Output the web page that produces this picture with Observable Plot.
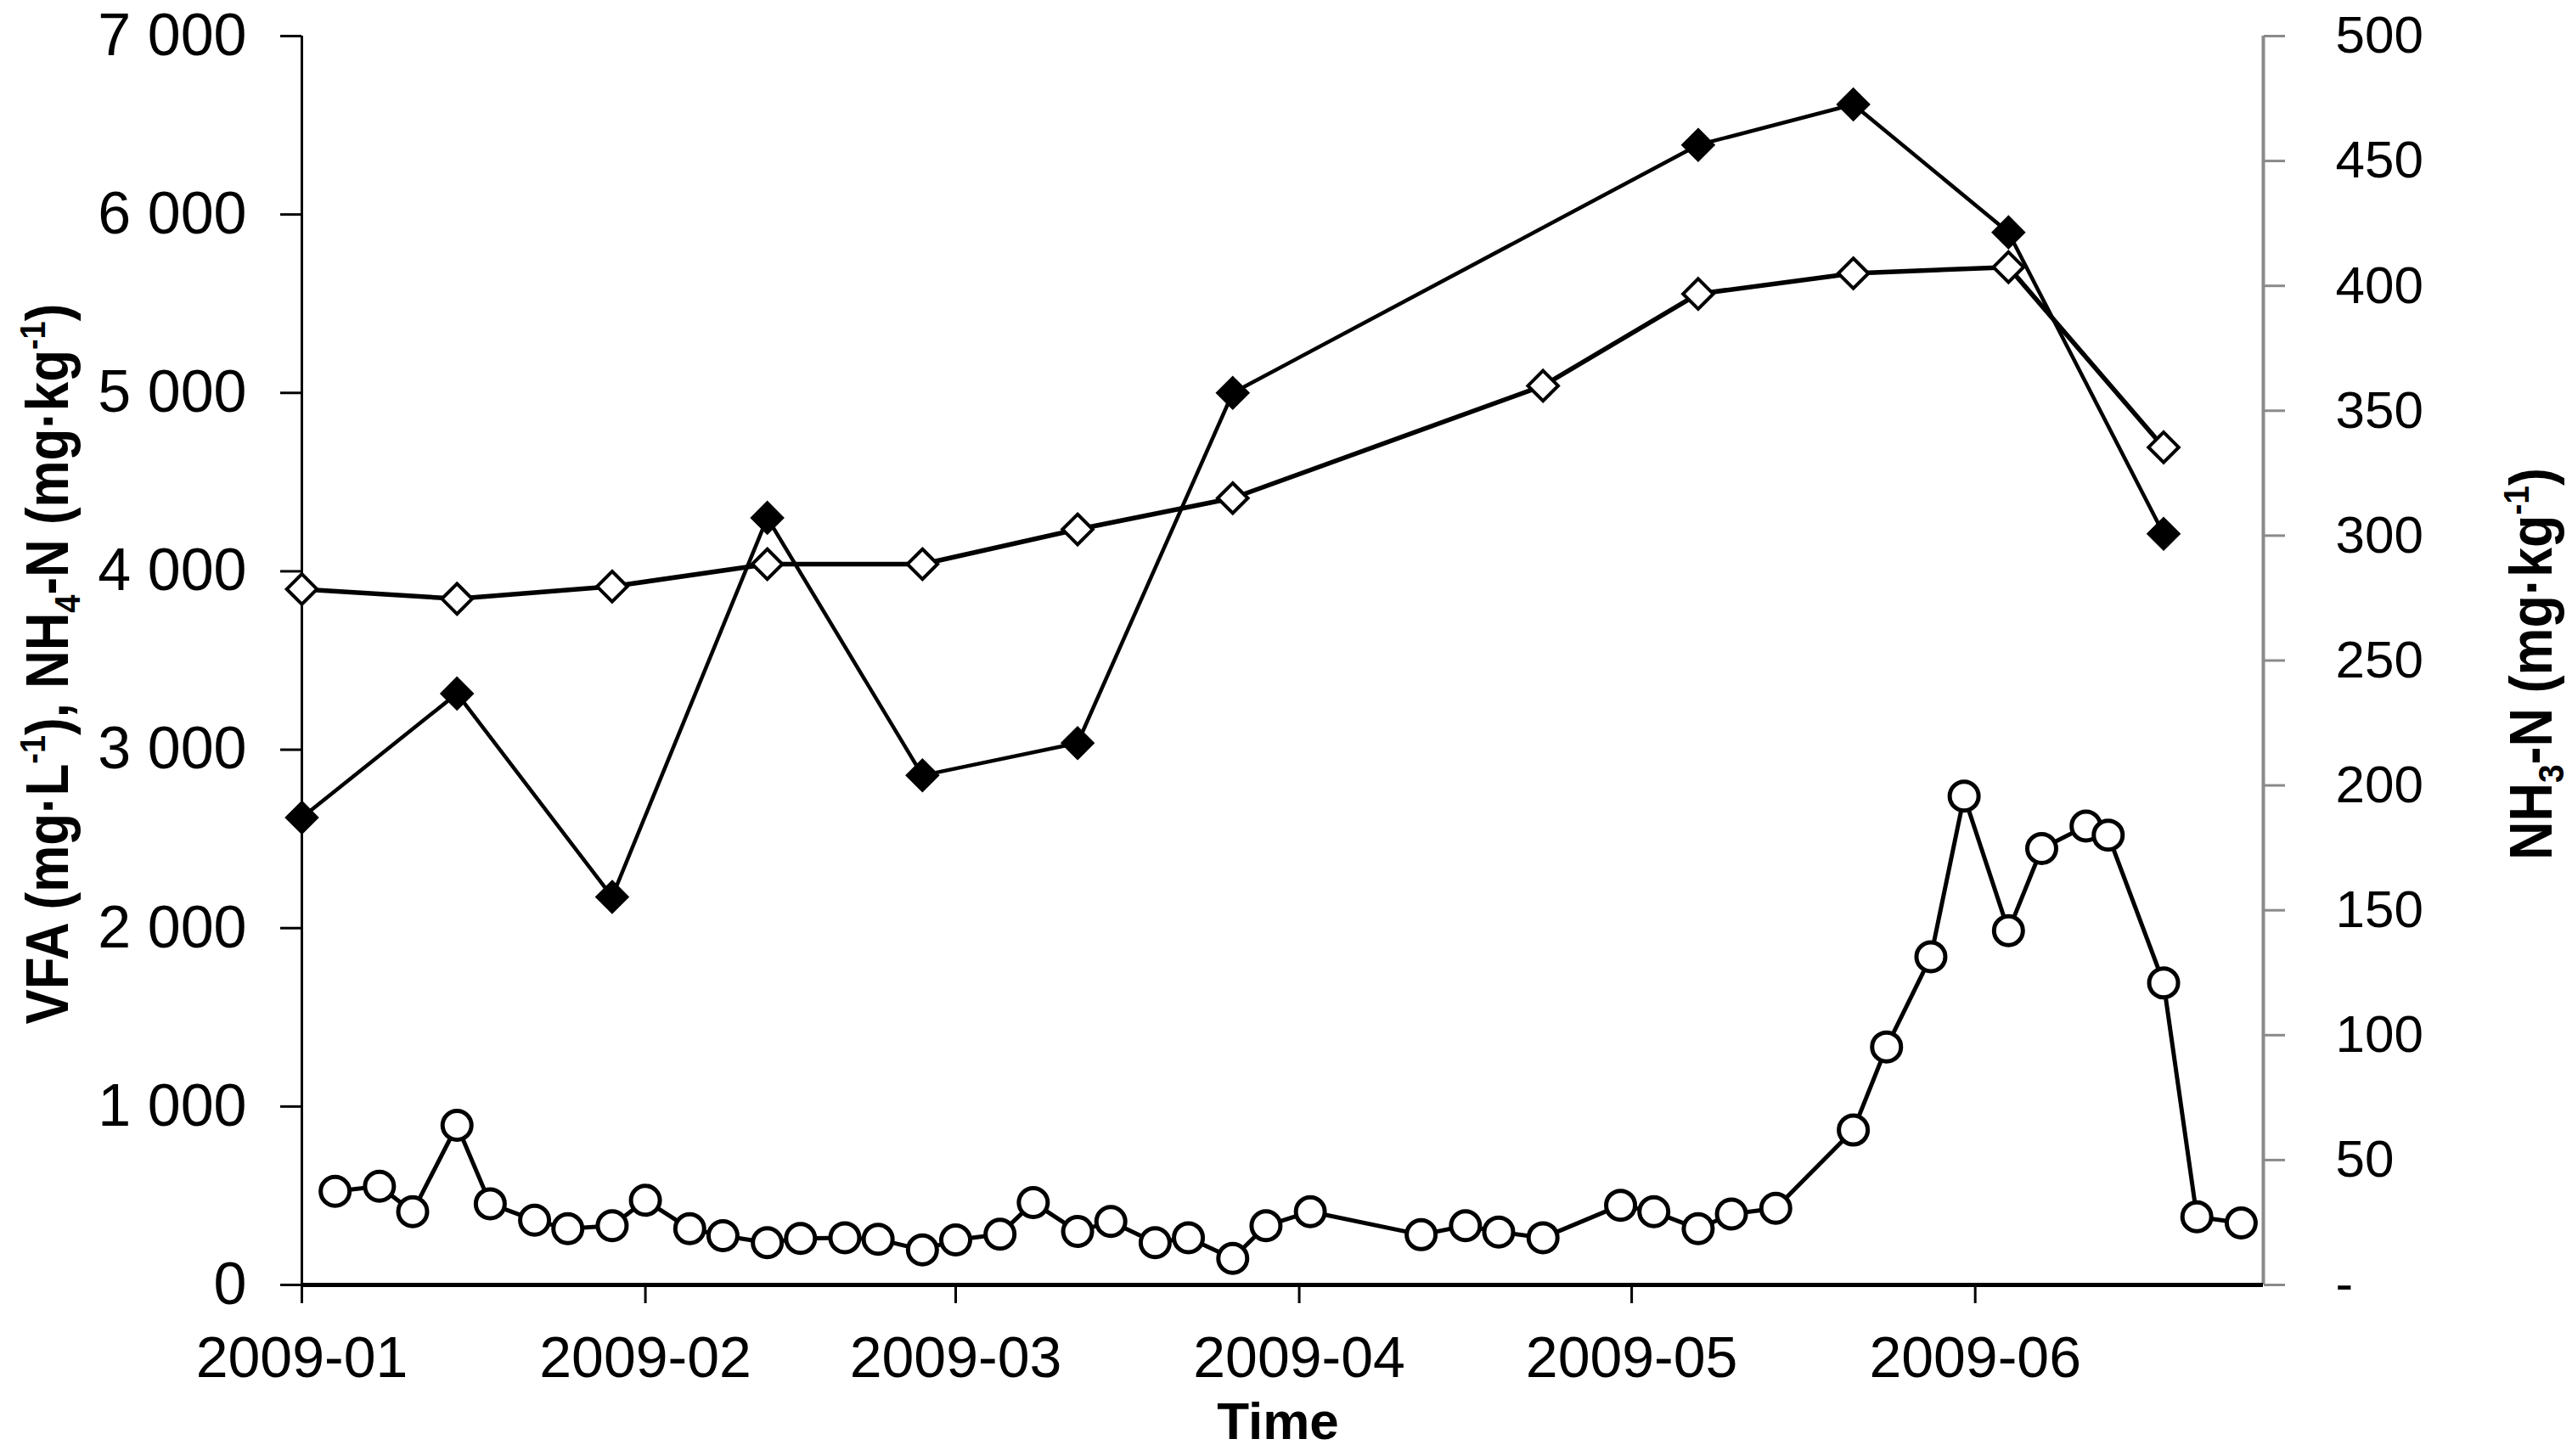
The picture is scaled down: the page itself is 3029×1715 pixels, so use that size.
<!DOCTYPE html>
<html>
<head>
<meta charset="utf-8">
<script src="https://cdn.jsdelivr.net/npm/d3@7"></script>
<script src="https://cdn.jsdelivr.net/npm/@observablehq/plot@0.6"></script>
<style>
  html, body { margin: 0; padding: 0; background: #fff; }
  #chart svg { display: block; }
</style>
</head>
<body>
<div id="chart"></div>
<script>
// ---------- data ----------
const vfaDates = ["2009-01-01","2009-01-15","2009-01-29","2009-02-12","2009-02-26","2009-03-12","2009-03-26","2009-05-07","2009-05-21","2009-06-04","2009-06-18"];
const vfaValues = [2620, 3315, 2175, 4300, 2856, 3037, 5000, 6390, 6617, 5900, 4210];

const nh4Dates = ["2009-01-01","2009-01-15","2009-01-29","2009-02-12","2009-02-26","2009-03-12","2009-03-26","2009-04-23","2009-05-07","2009-05-21","2009-06-04","2009-06-18"];
const nh4Values = [3900, 3846, 3915, 4040, 4040, 4235, 4410, 5040, 5555, 5670, 5705, 4695];

const nh3Dates = ["2009-01-04","2009-01-08","2009-01-11","2009-01-15","2009-01-18","2009-01-22","2009-01-25","2009-01-29",
  "2009-02-01","2009-02-05","2009-02-08","2009-02-12","2009-02-15","2009-02-19","2009-02-22","2009-02-26",
  "2009-03-01","2009-03-05","2009-03-08","2009-03-12","2009-03-15","2009-03-19","2009-03-22","2009-03-26","2009-03-29",
  "2009-04-02","2009-04-12","2009-04-16","2009-04-19","2009-04-23","2009-04-30",
  "2009-05-03","2009-05-07","2009-05-10","2009-05-14","2009-05-21","2009-05-24","2009-05-28","2009-05-31",
  "2009-06-04","2009-06-07","2009-06-11","2009-06-13","2009-06-18","2009-06-21","2009-06-25"];
const nh3Values = [37.5, 39.5, 29.3, 63.9, 32.5, 25.9, 22.5, 23.7,
  33.9, 22.5, 19.7, 16.9, 18.6, 18.9, 18.3, 14.0,
  18.0, 20.3, 33.0, 21.4, 25.4, 16.9, 18.9, 10.6, 23.7,
  29.3, 20.1, 23.7, 21.2, 18.9, 31.9,
  29.3, 22.5, 28.4, 30.7, 62.0, 95.3, 131.4, 195.7,
  141.8, 174.7, 183.7, 180.1, 120.9, 27.3, 24.8];

const leftTicks = [0, 1000, 2000, 3000, 4000, 5000, 6000, 7000];
const rightTicks = [0, 50, 100, 150, 200, 250, 300, 350, 400, 450, 500];
const monthTicks = ["2009-01-01","2009-02-01","2009-03-01","2009-04-01","2009-05-01","2009-06-01"];
const xDomain = ["2009-01-01","2009-06-27"];
const leftMax = 7000;
const rightMax = 500;

// ---------- build ----------
const K = leftMax / rightMax; // right axis -> left axis units
const parse = d3.utcParse("%Y-%m-%d");
const vfa = vfaDates.map((d, i) => ({date: parse(d), v: vfaValues[i]}));
const nh4 = nh4Dates.map((d, i) => ({date: parse(d), v: nh4Values[i]}));
const nh3 = nh3Dates.map((d, i) => ({date: parse(d), v: nh3Values[i]}));

const fmtLeft = d => d3.format(",")(d).replace(/,/g, " ");
const fmtRight = d => { const v = Math.round(d / K); return v === 0 ? "-" : String(v); };

const GRAY = "#8a8a8a";

const chart = Plot.plot({
  width: 3029,
  height: 1715,
  marginLeft: 355,
  marginRight: 364,
  marginTop: 42,
  marginBottom: 202,
  style: {fontFamily: '"Liberation Sans", Arial, sans-serif', fontSize: "68px", background: "#fff", color: "#000"},
  x: {type: "utc", domain: xDomain.map(parse)},
  y: {domain: [0, leftMax]},
  marks: [
    Plot.axisY({ticks: leftTicks, anchor: "left", tickSize: 25, tickPadding: 40, tickFormat: fmtLeft, fontSize: 70, strokeWidth: 3, label: null}),
    Plot.axisY({ticks: rightTicks.map(v => v * K), anchor: "right", tickSize: 25, tickPadding: 60, tickFormat: fmtRight, fontSize: 62, stroke: GRAY, fill: "#000", strokeWidth: 3, textAnchor: "start", label: null}),
    Plot.axisX({ticks: monthTicks.map(parse), anchor: "bottom", tickSize: 22, tickPadding: 38, tickFormat: d3.utcFormat("%Y-%m"), fontSize: 68, strokeWidth: 3, label: null}),
    Plot.ruleX([parse(xDomain[1])], {stroke: GRAY, strokeWidth: 4}),
    Plot.ruleX([parse(xDomain[0])], {stroke: "#000", strokeWidth: 3}),
    Plot.ruleY([0], {stroke: "#000", strokeWidth: 5}),
    Plot.line(nh3, {x: "date", y: d => d.v * K, stroke: "#000", strokeWidth: 5}),
    Plot.line(nh4, {x: "date", y: "v", stroke: "#000", strokeWidth: 5.5}),
    Plot.line(vfa, {x: "date", y: "v", stroke: "#000", strokeWidth: 4.5}),
    Plot.dot(nh3, {x: "date", y: d => d.v * K, r: 17, fill: "#fff", stroke: "#000", strokeWidth: 5}),
    Plot.dot(nh4, {x: "date", y: "v", symbol: "diamond2", r: 16, fill: "#fff", stroke: "#000", strokeWidth: 4}),
    Plot.dot(vfa, {x: "date", y: "v", symbol: "diamond2", r: 17, fill: "#000", stroke: "#000", strokeWidth: 2})
  ]
});
document.getElementById("chart").appendChild(chart);

// ---------- axis titles (rich text with sub/superscripts) ----------
const svg = d3.select(chart);
function richText(parts, size) {
  const t = svg.append("text")
    .attr("font-family", '"Liberation Sans", Arial, sans-serif')
    .attr("font-weight", "bold")
    .attr("font-size", size)
    .attr("fill", "#000")
    .attr("text-anchor", "start");
  const small = Math.round(size * 0.62);
  const up = Math.round(size * 0.38), down = Math.round(size * 0.2);
  let shift = 0;
  parts.forEach(([s, kind]) => {
    const want = kind === "sup" ? -up : kind === "sub" ? down : 0;
    const ts = t.append("tspan").text(s);
    if (want !== shift) ts.attr("dy", want - shift);
    if (kind) ts.attr("font-size", small);
    shift = want;
  });
  return t;
}
// place a vertical (bottom-to-top) title centred at (cx, cy) along the axis, with total length `target`
function placeVertical(t, cx, cy, target) {
  t.attr("x", 0).attr("y", 0);
  const bb = t.node().getBBox();
  const s = target / bb.width;
  const mid = bb.x + bb.width / 2;
  t.attr("transform", `translate(${cx},${cy}) rotate(-90) scale(${s},1) translate(${-mid},0)`);
}

const leftTitle = richText([["VFA (mg·L"], ["-1", "sup"], ["), NH"], ["4", "sub"], ["-N (mg·kg"], ["-1", "sup"], [")"]], 70);
placeVertical(leftTitle, 80, 782, 849);

const rightTitle = richText([["NH"], ["3", "sub"], ["-N (mg·kg"], ["-1", "sup"], [")"]], 70);
placeVertical(rightTitle, 3005, 782, 462);

const timeTitle = richText([["Time"]], 62);
timeTitle.attr("text-anchor", "middle").attr("x", 1505).attr("y", 1695);
</script>
</body>
</html>
